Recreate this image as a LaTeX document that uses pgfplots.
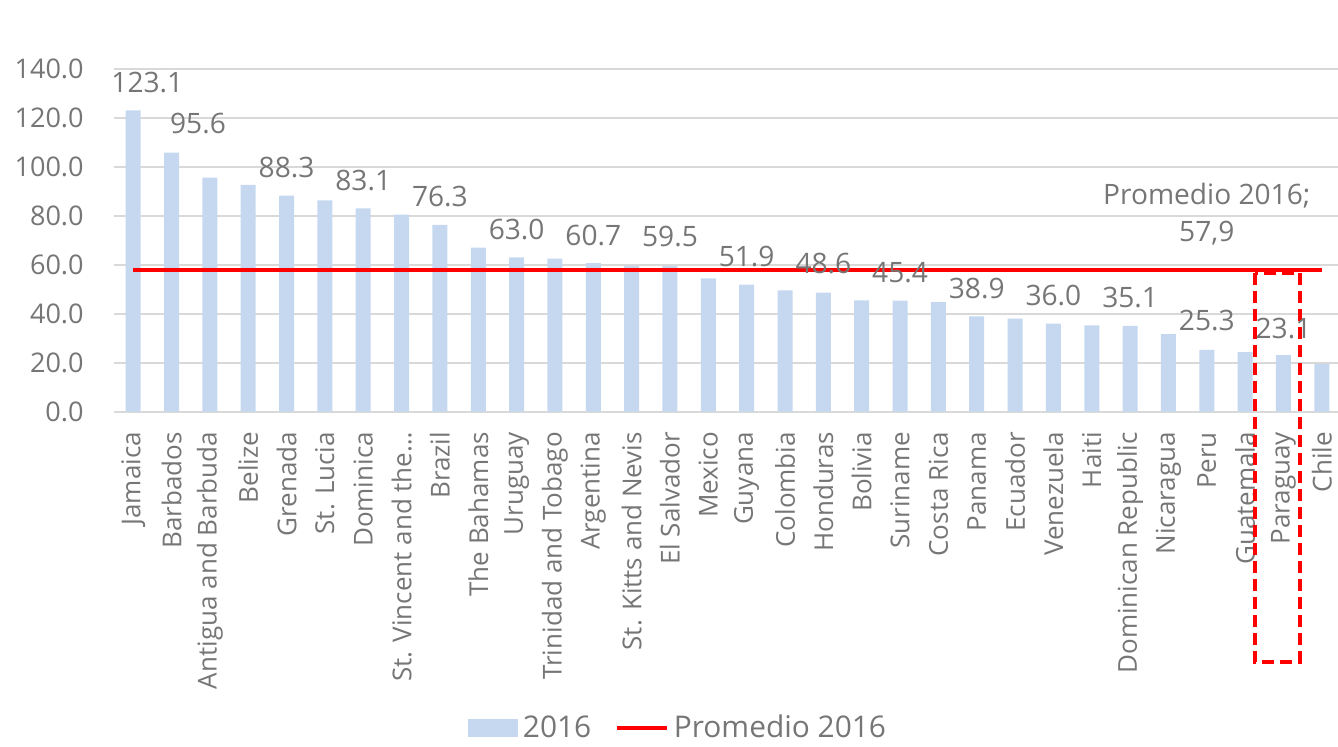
\documentclass[border=0pt]{standalone}
\usepackage{fontspec}
\setmainfont{Open Sans}
\usepackage{pgfplots}
\pgfplotsset{compat=1.18}
\definecolor{txt}{RGB}{118,118,118}
\definecolor{gridc}{RGB}{217,217,217}
\definecolor{barc}{RGB}{197,216,240}
\newcommand\cf{\fontsize{15.4}{18}\selectfont}
\newcommand\xf{\fontsize{14.8}{17}\selectfont}
\newcommand\lf{\fontsize{16}{19}\selectfont}
\newcommand\gf{\fontsize{17}{20}\selectfont}

\begin{document}
\begin{tikzpicture}
\begin{axis}[
  scale only axis, width=245.4mm, height=68.54mm,
  xmin=-0.5, xmax=31.5, ymin=0, ymax=140,
  clip=false,
  axis line style={draw=none},
  major tick length=0pt,
  ytick={0,20,...,140},
  ymajorgrids, grid style={gridc, line width=0.45mm},
  yticklabel style={font=\cf, text=txt, inner sep=0pt,
    /pgf/number format/.cd, fixed, fixed zerofill, precision=1, assume math mode=true},
  yticklabel shift=6mm,
  xtick={0,...,31},
  xticklabels={Jamaica, Barbados, Antigua and Barbuda, Belize, Grenada, St. Lucia,
    Dominica, St. Vincent and the…, Brazil, The Bahamas, Uruguay, Trinidad and Tobago,
    Argentina, St. Kitts and Nevis, El Salvador, Mexico, Guyana, Colombia, Honduras,
    Bolivia, Suriname, Costa Rica, Panama, Ecuador, Venezuela, Haiti,
    Dominican Republic, Nicaragua, Peru, Guatemala, Paraguay, Chile},
  xticklabel style={font=\xf, text=txt, rotate=90, anchor=east, inner sep=0pt},
  xticklabel shift=4mm,
  legend style={at={(0.5,0)}, anchor=center, xshift=-9.6mm, yshift=-63.2mm,
    draw=none, fill=none, font=\gf, text=txt, legend columns=2,
    nodes={inner xsep=3pt, inner ysep=1pt},
    /tikz/every even column/.append style={column sep=3.6mm}},
  lab/.style={draw=none, mark=none, forget plot,
    nodes near coords style={anchor=center, font=\lf, text=txt, inner sep=0pt}},
]
\addplot[ybar, bar width=3mm, fill=barc, draw=none,
  legend image code/.code={\fill[barc] (0mm,-1.8mm) rectangle (10mm,1.8mm);}]
  coordinates {
  (0,123.1) (1,105.8) (2,95.6) (3,92.7) (4,88.3) (5,86.3) (6,83.1) (7,80.5)
  (8,76.3) (9,67.0) (10,63.0) (11,62.5) (12,60.7) (13,59.6) (14,59.5) (15,54.5)
  (16,51.9) (17,49.6) (18,48.6) (19,45.5) (20,45.4) (21,44.8) (22,38.9) (23,38.0)
  (24,36.0) (25,35.3) (26,35.1) (27,31.7) (28,25.3) (29,24.3) (30,23.1) (31,19.5)};
\addlegendentry{2016}
\addplot[red, line width=0.8mm, mark=none,
  legend image code/.code={\draw[red, line width=0.8mm] (0mm,0mm) -- (10mm,0mm);}]
  coordinates {(0,57.9) (31,57.9)};
\addlegendentry{Promedio 2016}
% data labels (positions as placed in the source chart)
\addplot[lab, point meta=explicit symbolic, nodes near coords]
  coordinates {
  (0.37,134.6) [123.1] (1.69,117.8) [95.6] (4,99.8) [88.3] (6,94.6) [83.1]
  (8,88.0) [76.3] (10,74.6) [63.0] (12,72.1) [60.7] (14,71.4) [59.5]
  (16,63.6) [51.9] (18,60.6) [48.6] (20,56.7) [45.4] (22,50.4) [38.9]
  (24,47.6) [36.0] (26,46.7) [35.1] (28,37.1) [25.3] (30,34.0) [23.1]};
\addplot[lab, nodes near coords={Promedio 2016;}] coordinates {(28,88.4)};
\addplot[lab, nodes near coords={57,9}] coordinates {(28,72.9)};
\draw[red, line width=0.8mm, dash pattern=on 2.4mm off 1.2mm]
  (axis cs:29.26,56.6) rectangle (axis cs:30.43,-102.2);
\coordinate (sw) at (rel axis cs:0,0);
\coordinate (ne) at (rel axis cs:1,1);
\end{axis}
\pgfresetboundingbox
\path ([xshift=-22.8mm,yshift=-66.86mm]sw) rectangle ([xshift=-0.6mm,yshift=13.8mm]ne);
\end{tikzpicture}
\end{document}
